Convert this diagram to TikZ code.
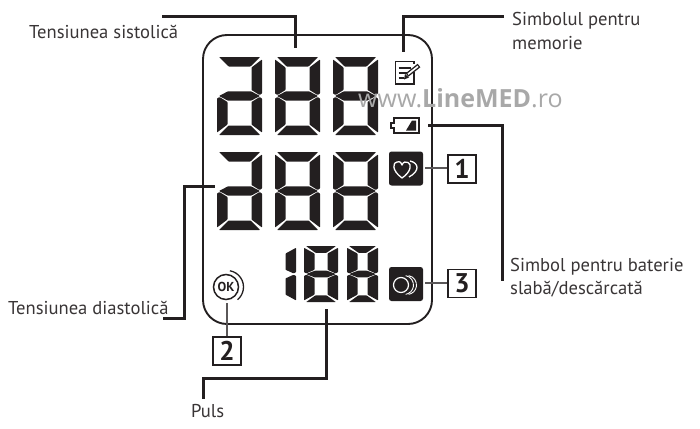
\documentclass[tikz,border=0pt]{standalone}
\usepackage{fontspec}
\setmainfont{PT Sans}
\newfontfamily\wmfont{Open Sans}
\definecolor{ink}{HTML}{231F20}
\definecolor{wm}{HTML}{A8A8A8}
\newcommand{\SegA}{\fill[segfill] (2,0)--({\dW-2},0)--({\dW-11.5},9.5)--(11.5,9.5)--cycle;}
\newcommand{\SegB}{\fill[segfill] (\dW,2.5)--({\dW-10.5},10.5)--({\dW-10.5},33)--({\dW-2.5},38)--(\dW,36.5)--cycle;}
\newcommand{\SegC}{\fill[segfill] (\dW,75.5)--({\dW-10.5},67.5)--({\dW-10.5},45)--({\dW-2.5},40)--(\dW,41.5)--cycle;}
\newcommand{\SegD}{\fill[segfill] (2,78)--({\dW-2},78)--({\dW-11.5},68.5)--(11.5,68.5)--cycle;}
\newcommand{\SegE}{\fill[segfill] (0,75.5)--(10.5,67.5)--(10.5,45)--(2.5,40)--(0,41.5)--cycle;}
\newcommand{\SegF}{\fill[segfill] (0,2.5)--(10.5,10.5)--(10.5,33)--(2.5,38)--(0,36.5)--cycle;}
\newcommand{\SegG}{\fill[segfill] (2,39)--(11,34.3)--({\dW-11},34.3)--({\dW-2},39)--({\dW-11},43.7)--(11,43.7)--cycle;}
\newcommand{\DigEight}[4]{\def\dW{#3}\begin{scope}[shift={(#1,#2)},yscale=#4]\SegA\SegB\SegC\SegD\SegE\SegF\SegG\end{scope}}
\newcommand{\DigA}[2]{\def\dW{45}\begin{scope}[shift={(#1,#2)}]\SegA\SegB\SegC\SegD\SegE\SegG\end{scope}}
\newcommand{\DigOne}[2]{\def\dW{11}\begin{scope}[shift={(#1,#2)},yscale=0.72]\SegB\SegC\end{scope}}
\tikzset{
  segfill/.style={fill=ink,rounded corners=0.6pt},
  lcd/.style={draw=ink,line width=1.9pt,rounded corners=24pt},
  leader/.style={draw=ink,line width=3pt,line join=miter},
  thinlead/.style={draw=ink!75,line width=1.2pt},
  numbox/.style={draw=ink,line width=1.3pt,fill=white,minimum width=28pt,minimum height=28pt,inner sep=0pt,font=\fontsize{27}{27}\selectfont\bfseries,text=ink},
  lbl/.style={inner sep=0pt,anchor=base west,font=\fontsize{18.6}{18.6}\selectfont,text=ink!90},
  iconbox/.style={fill=ink,rounded corners=2.5pt},
  wmtxt/.style={inner sep=0pt,anchor=base west,text=wm,font=\wmfont\fontsize{25}{25}\selectfont}
}
\begin{document}
\begin{tikzpicture}[x=1pt,y=-1pt]
\useasboundingbox (0,0) rectangle (700,428);
% display frame
\draw[lcd] (203,35) rectangle (432,324);
% digits
\DigA{217}{57}\DigEight{275}{57}{45}{1}\DigEight{333}{57}{45}{1}
\DigA{217}{152}\DigEight{275}{152}{45}{1}\DigEight{333}{152}{45}{1}
\DigOne{285}{246}\DigEight{304}{246}{34}{0.72}\DigEight{347}{246}{31}{0.72}
% memory icon
\draw[ink,line width=1.6pt] (414,72)--(414,84)--(395.5,84)--(395.5,61.5)--(414,61.5)--(414,64);
\draw[ink,line width=1.7pt] (398.5,68)--(411,68) (398.5,73)--(408,73) (398.5,78)--(404,78);
\draw[ink,line width=4.4pt] (407,75)--(419,65.5);
\draw[white,line width=1.6pt] (408,74.2)--(418,66.3);
\fill[ink] (404,79.5)--(405,74)--(409,77.5)--cycle;
% battery icon
\draw[ink,line width=1.4pt] (394,118)--(419,118)--(419,133)--(394,133)--(394,128)--(391,128)--(391,123)--(394,123)--cycle;
\fill[ink] (406,130.5)--(412,120.5)--(416,120.5)--(416,130.5)--cycle;
% heart icon
\node[iconbox,minimum width=34pt,minimum height=34pt,inner sep=0pt] (hearticon) at (406,168.5) {};
\draw[white,line width=1.3pt,line join=round] (402,178) .. controls (391,170) and (393,162) .. (397,162) .. controls (400,161) and (402,163) .. (402,165) .. controls (403,162) and (406,161) .. (408,162.5) .. controls (412,164) and (411,172) .. (402,178) -- cycle;
\draw[white,line width=1.3pt] (410,161) .. controls (419,163) and (420,171) .. (409,177);
% ring icon
\node[iconbox,minimum width=34pt,minimum height=34pt,inner sep=0pt] (ringicon) at (406,284) {};
\draw[white,line width=1.2pt] (401,285) circle (7.5);
\draw[white,line width=0.9pt] (404,285) ++(-80:9.5) arc (-80:80:9.5);
\draw[white,line width=0.9pt] (407,285) ++(-80:9.5) arc (-80:80:9.5);
% OK icon
\node[circle,draw=ink,line width=1.5pt,minimum size=25pt,inner sep=0pt,font=\fontsize{13}{13}\selectfont\bfseries,text=ink] (okicon) at (226,287) {OK};
\draw[ink,line width=1.3pt] (227,287) ++(-80:16.5) arc (-80:50:16.5);
% numbered boxes
\node[numbox] (one) at (462,169) {1};
\node[numbox] (three) at (462,283.5) {3};
\node[numbox] (two) at (227,351) {2};
% thin leaders
\coordinate (oneend) at (425,168);
\coordinate (threeend) at (425,283);
\coordinate (twoend) at (227,303);
\draw[thinlead] (oneend) -- (one.west |- oneend);
\draw[thinlead] (threeend) -- (three.west |- threeend);
\draw[thinlead] (twoend) -- (two.north);
% labels
\node[lbl] (sist) at (29,39) {Tensiunea sistolică};
\node[lbl] (diast) at (8,314) {Tensiunea diastolică};
\node[lbl] (mem1) at (512,26) {Simbolul pentru};
\node[lbl] (mem2) at (512,49) {memorie};
\node[lbl] (bat1) at (510,271) {Simbol pentru baterie};
\node[lbl] (bat2) at (510,294) {slabă/descărcată};
\node[lbl] (puls) at (191,417) {Puls};
% thick leaders
\coordinate (a1) at (162,17); \coordinate (a2) at (295,17); \coordinate (a3) at (295,48);
\coordinate (b1) at (504,17); \coordinate (b2) at (403,17); \coordinate (b3) at (403,52);
\coordinate (c1) at (428,125); \coordinate (c2) at (502,125); \coordinate (c3) at (502,281);
\coordinate (d1) at (163,318); \coordinate (d2) at (184,318); \coordinate (d3) at (184,186); \coordinate (d4) at (215,186);
\coordinate (e1) at (326,309); \coordinate (e2) at (326,378); \coordinate (e3) at (203,378); \coordinate (e4) at (203,399);
\draw[leader] (a1)--(a2)--(a3);
\draw[leader] (b1)--(b2)--(b3);
\draw[leader] (c1)--(c2)--(c3);
\draw[leader] (d1)--(d2)--(d3)--(d4);
\draw[leader] (e1)--(e2)--(e3)--(e4);
% watermark
\node[wmtxt] (wmark) at (358,107) {www.{\bfseries LineMED}.ro};
\end{tikzpicture}
\end{document}
